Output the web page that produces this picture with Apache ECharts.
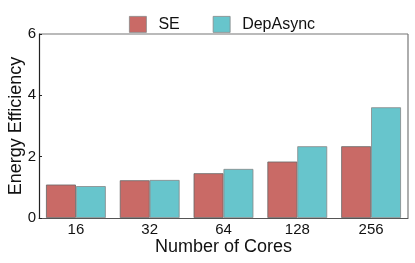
<!DOCTYPE html>
<html><head><meta charset="utf-8">
<script src="https://cdn.jsdelivr.net/npm/echarts@6/dist/echarts.min.js"></script>
<style>html,body{margin:0;padding:0;background:#fff}#c{width:415px;height:263px}</style>
</head><body><div id="c"></div>
<script>
const categories = ['16','32','64','128','256'];
const seValues = [1.09, 1.23, 1.46, 1.84, 2.34];
const depAsyncValues = [1.04, 1.24, 1.60, 2.34, 3.61];
const yTicks = [0, 2, 4, 6];

const chart = echarts.init(document.getElementById('c'));
const font = 'Liberation Sans, Arial, sans-serif';
chart.setOption({
  animation: false,
  legend: {
    top: 11, left: 124, itemWidth: 17, itemHeight: 16, itemGap: 33, icon: 'rect',
    itemStyle: {borderColor: '#888', borderWidth: 0.8},
    textStyle: {fontFamily: font, fontSize: 16, color: '#111', padding: [0,0,0,7]},
    data: ['SE', 'DepAsync']
  },
  grid: {left: 39, right: 7, top: 34, bottom: 45, containLabel: false, outerBoundsMode: 'none'},
  xAxis: {
    type: 'category', data: categories,
    name: 'Number of Cores', nameLocation: 'middle', nameGap: 20, nameMoveOverlap: false,
    nameTextStyle: {fontFamily: font, fontSize: 18, color: '#111'},
    axisLine: {lineStyle: {color: '#555', width: 1.2}},
    axisTick: {show: false},
    axisLabel: {fontFamily: font, fontSize: 15, color: '#111', margin: 4}
  },
  yAxis: {
    type: 'value', min: 0, max: 6, interval: 2,
    name: 'Energy Efficiency', nameLocation: 'middle', nameGap: 14, nameMoveOverlap: false,
    nameTextStyle: {fontFamily: font, fontSize: 18, color: '#111'},
    axisLine: {show: true, lineStyle: {color: '#222', width: 1.2}},
    axisTick: {show: true, inside: true, length: 3, lineStyle: {color: '#222'}},
    splitLine: {show: false},
    axisLabel: {fontFamily: font, fontSize: 15, color: '#111', margin: 3,
      formatter: v => yTicks.includes(v) ? String(v) : ''}
  },
  series: [
    {name: 'SE', type: 'bar', data: seValues, barGap: '0%', barCategoryGap: '19%',
     itemStyle: {color: '#c96a66', borderColor: '#666', borderWidth: 0.8}},
    {name: 'DepAsync', type: 'bar', data: depAsyncValues,
     itemStyle: {color: '#67c5cc', borderColor: '#888', borderWidth: 0.8}}
  ],
  graphic: [
    {type: 'line', shape: {x1: 39, y1: 34, x2: 408, y2: 34}, style: {stroke: '#777', lineWidth: 1.2}, silent: true},
    {type: 'line', shape: {x1: 408, y1: 34, x2: 408, y2: 218}, style: {stroke: '#777', lineWidth: 1.2}, silent: true}
  ]
});
</script></body></html>
